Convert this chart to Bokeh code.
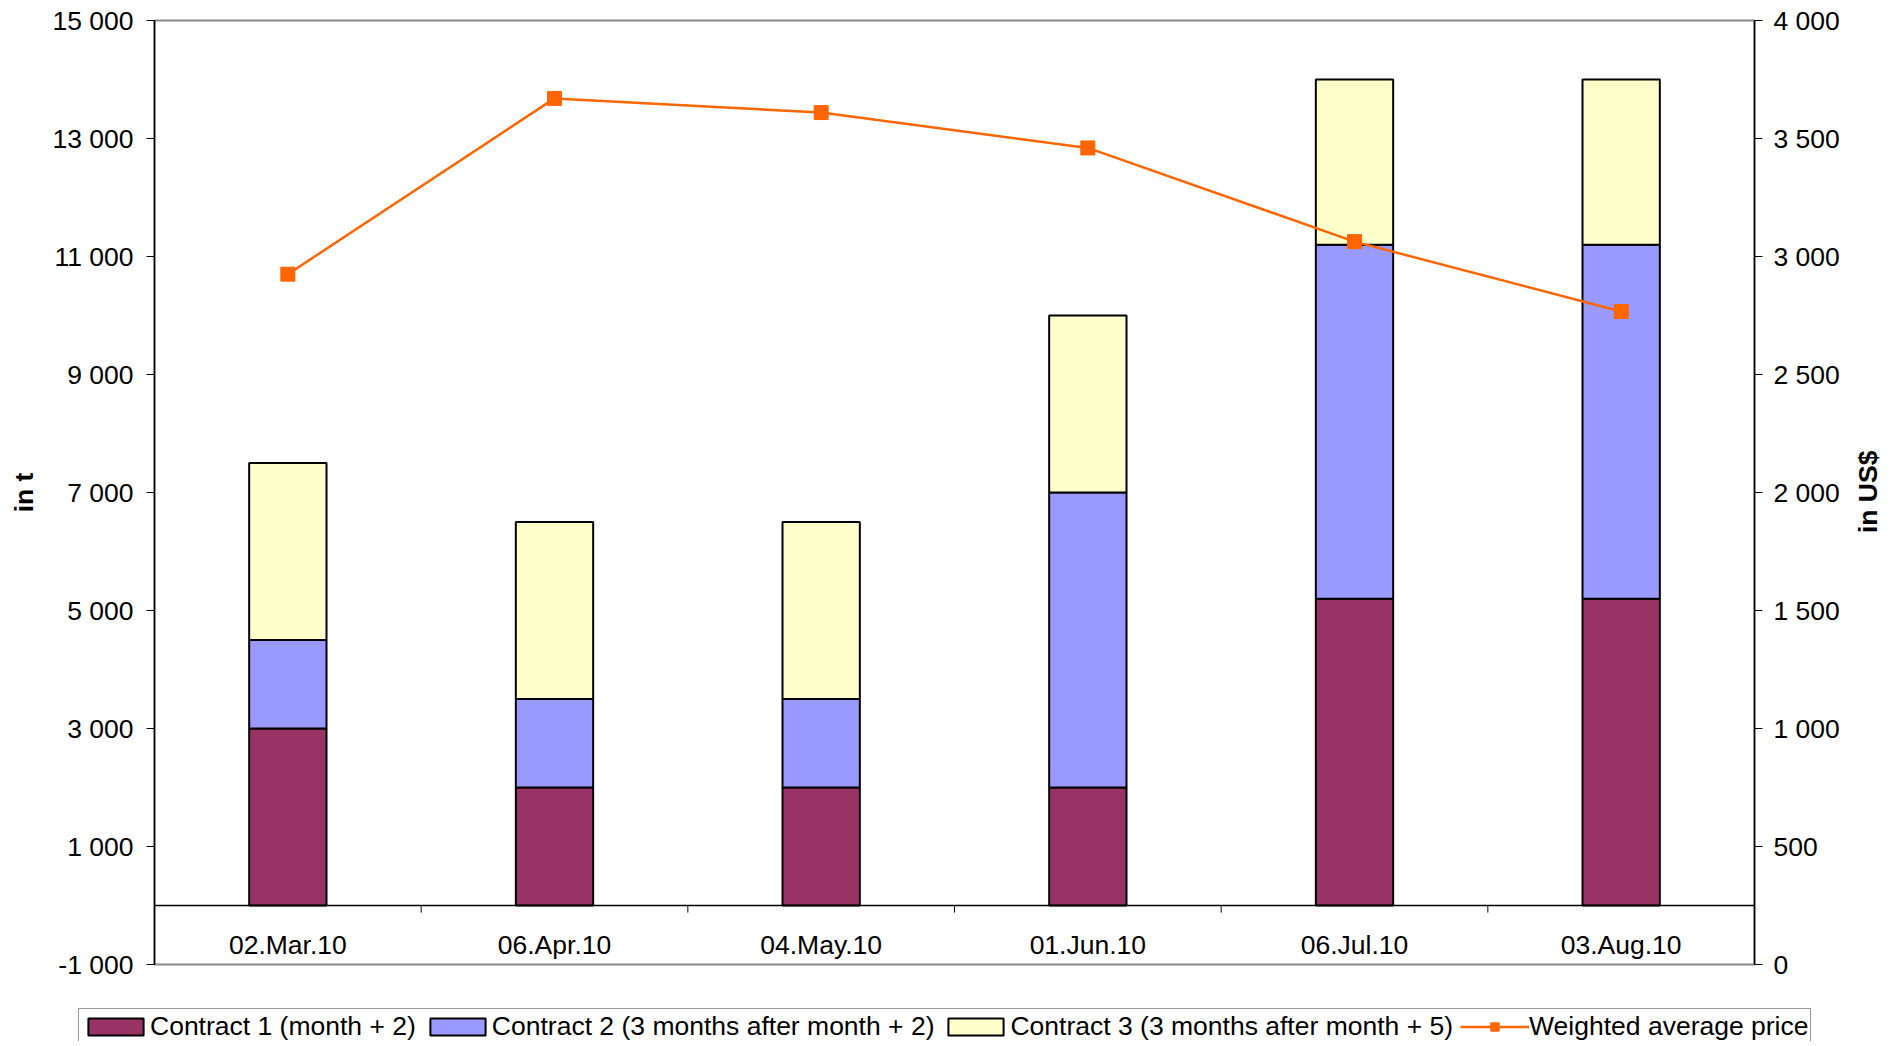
import math
from bokeh.plotting import figure
from bokeh.models import (ColumnDataSource, Range1d, LinearAxis, FixedTicker, Legend,
                          LegendItem, FactorRange, Span, BoxAnnotation)
from bokeh.core.properties import value
from bokeh.transform import dodge
from bokeh.embed import file_html
from bokeh.resources import INLINE

dates = ["02.Mar.10", "06.Apr.10", "04.May.10", "01.Jun.10", "06.Jul.10", "03.Aug.10"]
contract1 = [3000, 2000, 2000, 2000, 5200, 5200]
contract2 = [1500, 1500, 1500, 5000, 6000, 6000]
contract3 = [3000, 3000, 3000, 3000, 2800, 2800]
avg_price = [2925, 3670, 3610, 3460, 3063, 2767]

left_ticks = [-1000, 1000, 3000, 5000, 7000, 9000, 11000, 13000, 15000]
left_labels = ["-1 000", "1 000", "3 000", "5 000", "7 000", "9 000", "11 000", "13 000", "15 000"]
right_ticks = [0, 500, 1000, 1500, 2000, 2500, 3000, 3500, 4000]
right_labels = ["0", "500", "1 000", "1 500", "2 000", "2 500", "3 000", "3 500", "4 000"]

series_names = ["Contract 1 (month + 2)", "Contract 2 (3 months after month + 2)",
                "Contract 3 (3 months after month + 5)"]
line_name = "Weighted average price"
right_title = "in US$"
colors = ["#993366", "#9999FF", "#FFFFCC"]
LINE_COLOR = "#FF6600"
FONT = "Liberation Sans"
FS = "26.5px"
XLABEL_Y = -670        # vertical position of the category labels (data units, left axis)
SEP_LEN = -120         # length of the category separators below zero
RIGHT_TITLE_AT = 1828  # start of the right title (right-axis units) so that it is centred

src = ColumnDataSource(dict(date=dates, c1=contract1, c2=contract2, c3=contract3, price=avg_price))

p = figure(width=1901, height=985, x_range=FactorRange(*dates),
           y_range=Range1d(left_ticks[0], left_ticks[-1]),
           x_axis_location=None,
           output_backend="svg", toolbar_location=None,
           min_border_left=154, min_border_right=144, min_border_top=20, min_border_bottom=21)
p.extra_y_ranges = {"price": Range1d(right_ticks[0], right_ticks[-1])}
p.background_fill_color = "white"
p.border_fill_color = "white"
p.outline_line_color = "#888888"
p.outline_line_width = 2
p.xgrid.visible = False
p.ygrid.visible = False
p.x_range.range_padding = 0

bars = p.vbar_stack(["c1", "c2", "c3"], x="date", width=0.29, source=src,
                    fill_color=colors, line_color="black", line_width=2)

ln = p.line(x="date", y="price", source=src, y_range_name="price", line_color=LINE_COLOR, line_width=2.5)
sc = p.scatter(x="date", y="price", source=src, y_range_name="price", marker="square", size=14,
               fill_color=LINE_COLOR, line_color=LINE_COLOR)

# zero line acting as category axis
p.add_layout(Span(location=0, dimension="width", line_color="black", line_width=1.5))

# category separators below the zero line
sep = ColumnDataSource(dict(date=dates[1:], y0=[0] * (len(dates) - 1), y1=[SEP_LEN] * (len(dates) - 1)))
p.segment(x0=dodge("date", -0.5, range=p.x_range), x1=dodge("date", -0.5, range=p.x_range),
          y0="y0", y1="y1", source=sep, line_color="black", line_width=1)

# category labels
p.text(x="date", y=XLABEL_Y, text="date", source=src, text_align="center", text_baseline="middle",
       text_font=value(FONT), text_font_size=value(FS), text_color="black")

# left axis
ya = p.yaxis[0]
ya.ticker = FixedTicker(ticks=left_ticks)
ya.major_label_overrides = {t: l for t, l in zip(left_ticks, left_labels)}
ya.minor_tick_line_color = None
ya.major_tick_out = 8
ya.major_tick_in = 0
ya.major_label_standoff = 13
ya.axis_line_color = "black"
ya.axis_line_width = 1.5
ya.major_tick_line_color = "black"
ya.major_label_text_font = FONT
ya.major_label_text_font_size = FS
ya.major_label_text_color = "black"
ya.axis_label = "in t"
ya.axis_label_text_font = FONT
ya.axis_label_text_font_size = FS
ya.axis_label_text_font_style = "bold"
ya.axis_label_text_color = "black"
ya.axis_label_standoff = 10

# right axis
ra = LinearAxis(y_range_name="price", ticker=FixedTicker(ticks=right_ticks))
ra.major_label_overrides = {t: l for t, l in zip(right_ticks, right_labels)}
ra.minor_tick_line_color = None
ra.major_tick_out = 8
ra.major_tick_in = 0
ra.major_label_standoff = 11
ra.axis_line_color = "black"
ra.axis_line_width = 1.5
ra.major_tick_line_color = "black"
ra.major_label_text_font = FONT
ra.major_label_text_font_size = FS
ra.major_label_text_color = "black"
p.add_layout(ra, "right")

# right axis title (reads bottom-to-top), drawn as a rotated tick label of a bare axis
la = LinearAxis(y_range_name="price", ticker=FixedTicker(ticks=[RIGHT_TITLE_AT]),
                major_label_overrides={RIGHT_TITLE_AT: right_title},
                axis_line_color=None, major_tick_line_color=None, minor_tick_line_color=None,
                major_tick_out=0, major_tick_in=0, major_label_standoff=26,
                major_label_orientation=math.pi / 2,
                major_label_text_font=FONT, major_label_text_font_size=FS,
                major_label_text_font_style="bold", major_label_text_color="black")
p.add_layout(la, "right")

# legend strip below the chart (its renderers are hidden; only their legend glyphs show)
lp = figure(width=1901, height=56, x_range=FactorRange(*dates), y_range=Range1d(-2, -1),
            x_axis_location=None, y_axis_location=None,
            output_backend="svg", toolbar_location=None,
            min_border_left=0, min_border_right=0, min_border_top=0, min_border_bottom=0)
lp.outline_line_color = None
lp.xgrid.visible = False
lp.ygrid.visible = False
lbars = lp.vbar_stack(["c1", "c2", "c3"], x="date", width=0.29, source=src,
                      fill_color=colors, line_color="black", line_width=2)
l_ln = lp.line(x="date", y="price", source=src, line_color=LINE_COLOR, line_width=2.5)
l_sc = lp.scatter(x="date", y="price", source=src, marker="square", size=14,
                  fill_color=LINE_COLOR, line_color=LINE_COLOR)
for r in list(lbars) + [l_ln, l_sc]:
    r.visible = False
lp.add_layout(BoxAnnotation(fill_color="white", fill_alpha=1, line_color=None))

items = [LegendItem(label=series_names[i], renderers=[lbars[i]]) for i in range(3)]
items.append(LegendItem(label=line_name, renderers=[l_ln, l_sc]))
legend = Legend(items=items, orientation="horizontal", location=(78, -4),
                label_text_font=FONT, label_text_font_size=FS, label_text_color="black",
                glyph_width=69, glyph_height=21, label_standoff=0, spacing=7, padding=2,
                margin=0, border_line_color="#333333", border_line_width=1.5,
                background_fill_color="white", background_fill_alpha=1,
                click_policy="none", inactive_fill_alpha=0)
lp.add_layout(legend, "center")

open("out.html", "w").write(file_html([p, lp], INLINE))
